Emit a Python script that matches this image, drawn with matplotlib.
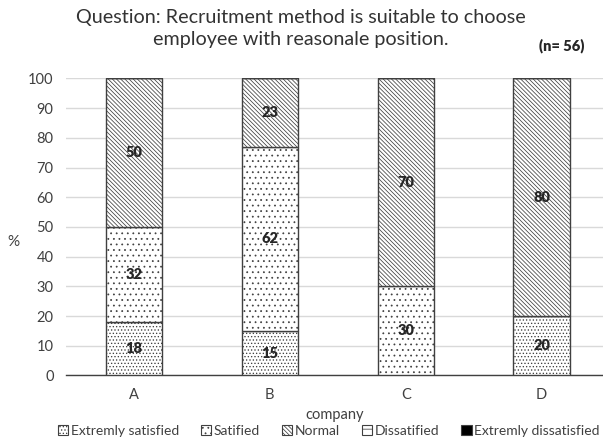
import matplotlib.pyplot as plt
from matplotlib.patches import Patch

plt.rcParams['font.family'] = ['Lato', 'DejaVu Sans']
plt.rcParams['hatch.linewidth'] = 0.55
plt.rcParams['hatch.color'] = '#404040'

companies = ['A', 'B', 'C', 'D']
series_names = ['Extremly satisfied', 'Satified', 'Normal', 'Dissatified', 'Extremly dissatisfied']
extremely_satisfied = [18, 15, 0, 20]
satisfied = [32, 62, 30, 0]
normal = [50, 23, 70, 80]
dissatisfied = [0, 0, 0, 0]
extremely_dissatisfied = [0, 0, 0, 0]

series = [extremely_satisfied, satisfied, normal, dissatisfied, extremely_dissatisfied]
hatches = ['.....', '...', '\\' * 8, '--', None]
faces = ['white', 'white', 'white', 'white', 'black']

fig = plt.figure(figsize=(6.03, 4.43), dpi=100)
ax = fig.add_axes([0.1095, 0.1524, 0.8905, 0.6704])

x = list(range(len(companies)))
bottom = [0] * len(companies)
for vals, h, fc in zip(series, hatches, faces):
    ax.bar(x, vals, width=0.415, bottom=bottom, color=fc, edgecolor='#404040',
           linewidth=1.0, hatch=h, zorder=3)
    for xi, v, b in zip(x, vals, bottom):
        if v > 0:
            ax.text(xi, b + v / 2, str(v), ha='center', va='center', fontsize=10.5,
                    fontweight='heavy', color='#262626', zorder=4)
    bottom = [b + v for b, v in zip(bottom, vals)]

ax.set_xlim(-0.5, 3.452)
ax.set_ylim(0, 100)
ax.set_yticks(range(0, 101, 10))
ax.set_xticks(x)
ax.set_xticklabels(companies)
ax.tick_params(axis='both', length=0, labelsize=10.5, colors='#404040', pad=9)
ax.grid(axis='y', color='#d9d9d9', linewidth=1.0, zorder=0)
for s in ['top', 'right', 'left']:
    ax.spines[s].set_visible(False)
ax.spines['bottom'].set_color('#404040')
ax.spines['bottom'].set_linewidth(1.0)

ax.set_xlabel('company', fontsize=10.5, color='#404040', labelpad=4)
fig.text(13 / 603, 1 - 242 / 443, '%', fontsize=11, color='#404040', ha='center', va='center')

fig.text(301 / 603, 1 - 17 / 443, 'Question: Recruitment method is suitable to choose',
         fontsize=14.2, color='#333333', ha='center', va='center')
fig.text(301 / 603, 1 - 40 / 443, 'employee with reasonale position.',
         fontsize=14.2, color='#333333', ha='center', va='center')
fig.text(562 / 603, 1 - 46 / 443, '(n= 56)', fontsize=10.5, fontweight='heavy',
         color='#262626', ha='center', va='center')

handles = [Patch(facecolor=fc, edgecolor='#404040', hatch=h, linewidth=0.8)
           for h, fc in zip(hatches, faces)]
fig.legend(handles, series_names, loc='center', bbox_to_anchor=(0.545, 1 - 431 / 443),
           ncol=5, frameon=False, fontsize=10, handlelength=0.75, handleheight=0.75,
           handletextpad=0.15, columnspacing=1.6, labelcolor='#404040')

fig.savefig('out.png', dpi=100)
